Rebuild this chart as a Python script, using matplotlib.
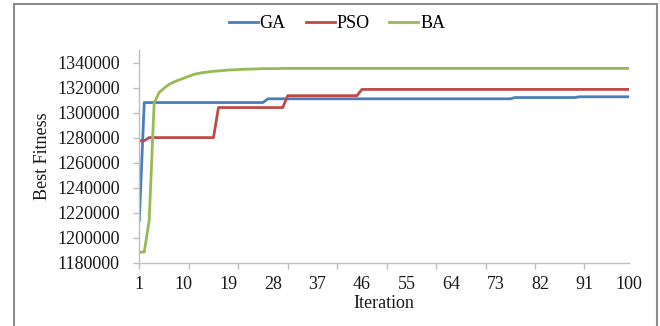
import matplotlib
matplotlib.use("Agg")
import matplotlib.pyplot as plt
from matplotlib.patches import Rectangle

plt.rcParams['font.family'] = ['Liberation Serif', 'DejaVu Serif']

iterations = list(range(1, 101))

ga = ([1213500] + [1308000] * 25 + [1311000] * 50 + [1312000] * 13 + [1312600] * 11)
pso = ([1277500] * 2 + [1280000] * 14 + [1304000] * 14 + [1313500] * 15 + [1318500] * 55)
ba = ([1188500, 1188500, 1214000, 1307500, 1316000, 1319500, 1322500, 1324500,
       1326000, 1327500, 1329000, 1330500, 1331300, 1332000, 1332500, 1333000,
       1333300, 1333600, 1334000, 1334200, 1334400, 1334600, 1334700, 1334800,
       1334900] + [1335100] * 4 + [1335300] * 71)

series_names = ['GA', 'PSO', 'BA']
series_colors = ['#4A7EBB', '#BE4B48', '#98B954']
x_labels = list(range(1, 101, 9))
x_marks = list(range(1, 101, 10))
y_ticks = list(range(1180000, 1340001, 20000))

fig = plt.figure(figsize=(6.6, 3.26), dpi=100)
ax = fig.add_axes([139.3 / 660, 1 - 262.7 / 326, (629 - 139.3) / 660, (262.7 - 50) / 326])

for name, vals, col in zip(series_names, [ga, pso, ba], series_colors):
    ax.plot(iterations, vals, color=col, lw=2.0, label=name, solid_joinstyle='round')

ax.set_xlim(1, 100)
ax.set_ylim(1180000, 1350000)
ax.set_yticks(y_ticks)
ax.set_yticklabels([str(v) for v in y_ticks])
ax.xaxis.remove_overlapping_locs = False
ax.set_xticks(x_labels)
ax.set_xticklabels([str(v) for v in x_labels])
ax.set_xticks(x_marks, minor=True)

ax.tick_params(axis='y', which='major', length=4, width=1, color='#BFBFBF',
               labelsize=13, pad=10, labelcolor='#1a1a1a')
ax.tick_params(axis='x', which='minor', length=4, width=1, color='#BFBFBF', direction='out')
ax.tick_params(axis='x', which='major', length=0, labelsize=13, pad=9.5, labelcolor='#1a1a1a')

for s in ['top', 'right']:
    ax.spines[s].set_visible(False)
for s in ['left', 'bottom']:
    ax.spines[s].set_color('#BFBFBF')
    ax.spines[s].set_linewidth(1)

ax.set_xlabel('Iteration', fontsize=13, va='center', color='#1a1a1a')
ax.xaxis.set_label_coords(0.5, (262.7 - 304) / 212.7)
ax.set_ylabel('Best Fitness', fontsize=13, va='center', color='#1a1a1a')
ax.yaxis.set_label_coords((42.3 - 139.3) / 489.7, 0.5)

fig.legend(loc='center', bbox_to_anchor=(337 / 660, 1 - 24 / 326), ncol=3, frameon=False,
           fontsize=13, handlelength=1.6, handletextpad=0.1, columnspacing=1.1)

border = Rectangle((13.5 / 660, -0.05), (657 - 13.5) / 660, 1.05 - 3.5 / 326,
                   transform=fig.transFigure, fill=False, edgecolor='#8C8C8C', lw=1.5)
fig.patches.append(border)

fig.savefig('out.png', dpi=100)
